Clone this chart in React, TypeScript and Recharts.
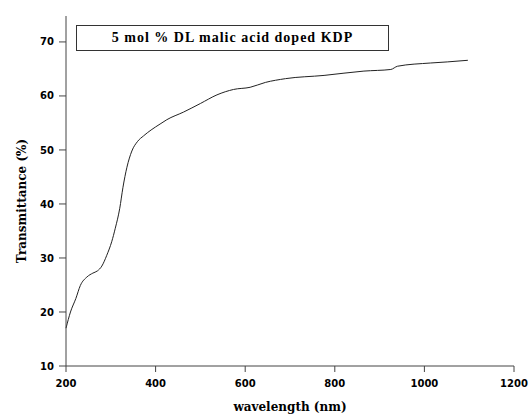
import { LineChart, Line, XAxis, YAxis, Label } from "recharts";

document.body.style.margin = "0";

// wavelength (nm) and transmittance (%)
const wavelength = [
  200, 210, 222, 232, 247, 260, 270, 280, 291, 302, 310, 320, 327, 336, 347, 360, 373, 390,
  410, 425, 462, 500, 537, 574, 611, 645, 690, 776, 865, 925, 940, 1014, 1051, 1097,
];
const transmittance = [
  17.0, 20.0, 22.5, 24.9, 26.5, 27.2, 27.6, 28.5, 30.5, 33.0, 35.5, 39.2, 43.0, 46.8, 49.8, 51.6, 52.6, 53.7,
  54.8, 55.6, 57.0, 58.6, 60.2, 61.2, 61.6, 62.5, 63.2, 63.8, 64.6, 64.9, 65.5, 66.1, 66.3, 66.6,
];
const xTicks = [200, 400, 600, 800, 1000, 1200];
const yTicks = [10, 20, 30, 40, 50, 60, 70];
const legendText = "5 mol % DL malic acid doped KDP";

const data = wavelength.map((w, i) => ({ w, t: transmittance[i] }));

const tickStyle = { fontFamily: "DejaVu Sans", fontWeight: 700, fontSize: 10, fill: "#000" };
const titleStyle = { fontFamily: "DejaVu Serif", fontWeight: 700, fontSize: 12, fill: "#000" };

function YTitle(props: any) {
  const { y, height } = props.viewBox;
  const cx = 22;
  const cy = y + height / 2 + 10;
  return (
    <text
      x={cx}
      y={cy}
      transform={`rotate(-90 ${cx} ${cy})`}
      textAnchor="middle"
      dominantBaseline="central"
      style={titleStyle}
    >
      Transmittance (%)
    </text>
  );
}

export default function App() {
  return (
    <div style={{ position: "relative", width: 529, height: 414, background: "#fff" }}>
      <LineChart width={529} height={414} data={data} margin={{ top: 16, right: 15, left: 0, bottom: 0 }}>
        <XAxis
          dataKey="w"
          type="number"
          domain={[200, 1200]}
          ticks={xTicks}
          height={48}
          stroke="#444"
          tickSize={6}
          tickMargin={8}
          tick={tickStyle}
        >
          <Label value="wavelength (nm)" position="insideBottom" offset={3} style={titleStyle} />
        </XAxis>
        <XAxis xAxisId="top" orientation="top" dataKey="w" type="number" domain={[200, 1200]} height={0} tick={false} tickLine={false} stroke="#444" />
        <YAxis
          type="number"
          domain={[10, 74.8]}
          ticks={yTicks}
          width={66}
          stroke="#444"
          tickSize={7}
          tickMargin={5}
          tick={tickStyle}
        >
          <Label content={YTitle} />
        </YAxis>
        <YAxis yAxisId="right" orientation="right" domain={[10, 74.8]} width={0} tick={false} tickLine={false} stroke="#444" />
        <Line dataKey="t" type="monotone" stroke="#222" strokeWidth={1} dot={false} isAnimationActive={false} />
      </LineChart>
      <div
        style={{
          position: "absolute",
          left: 76,
          top: 25,
          width: 313,
          height: 26,
          boxSizing: "border-box",
          border: "1.5px solid #333",
          background: "#fff",
          display: "flex",
          alignItems: "center",
          justifyContent: "center",
          fontFamily: "Liberation Serif",
          fontWeight: 700,
          fontSize: 14,
          letterSpacing: 1,
          color: "#000",
        }}
      >
        {legendText}
      </div>
    </div>
  );
}
